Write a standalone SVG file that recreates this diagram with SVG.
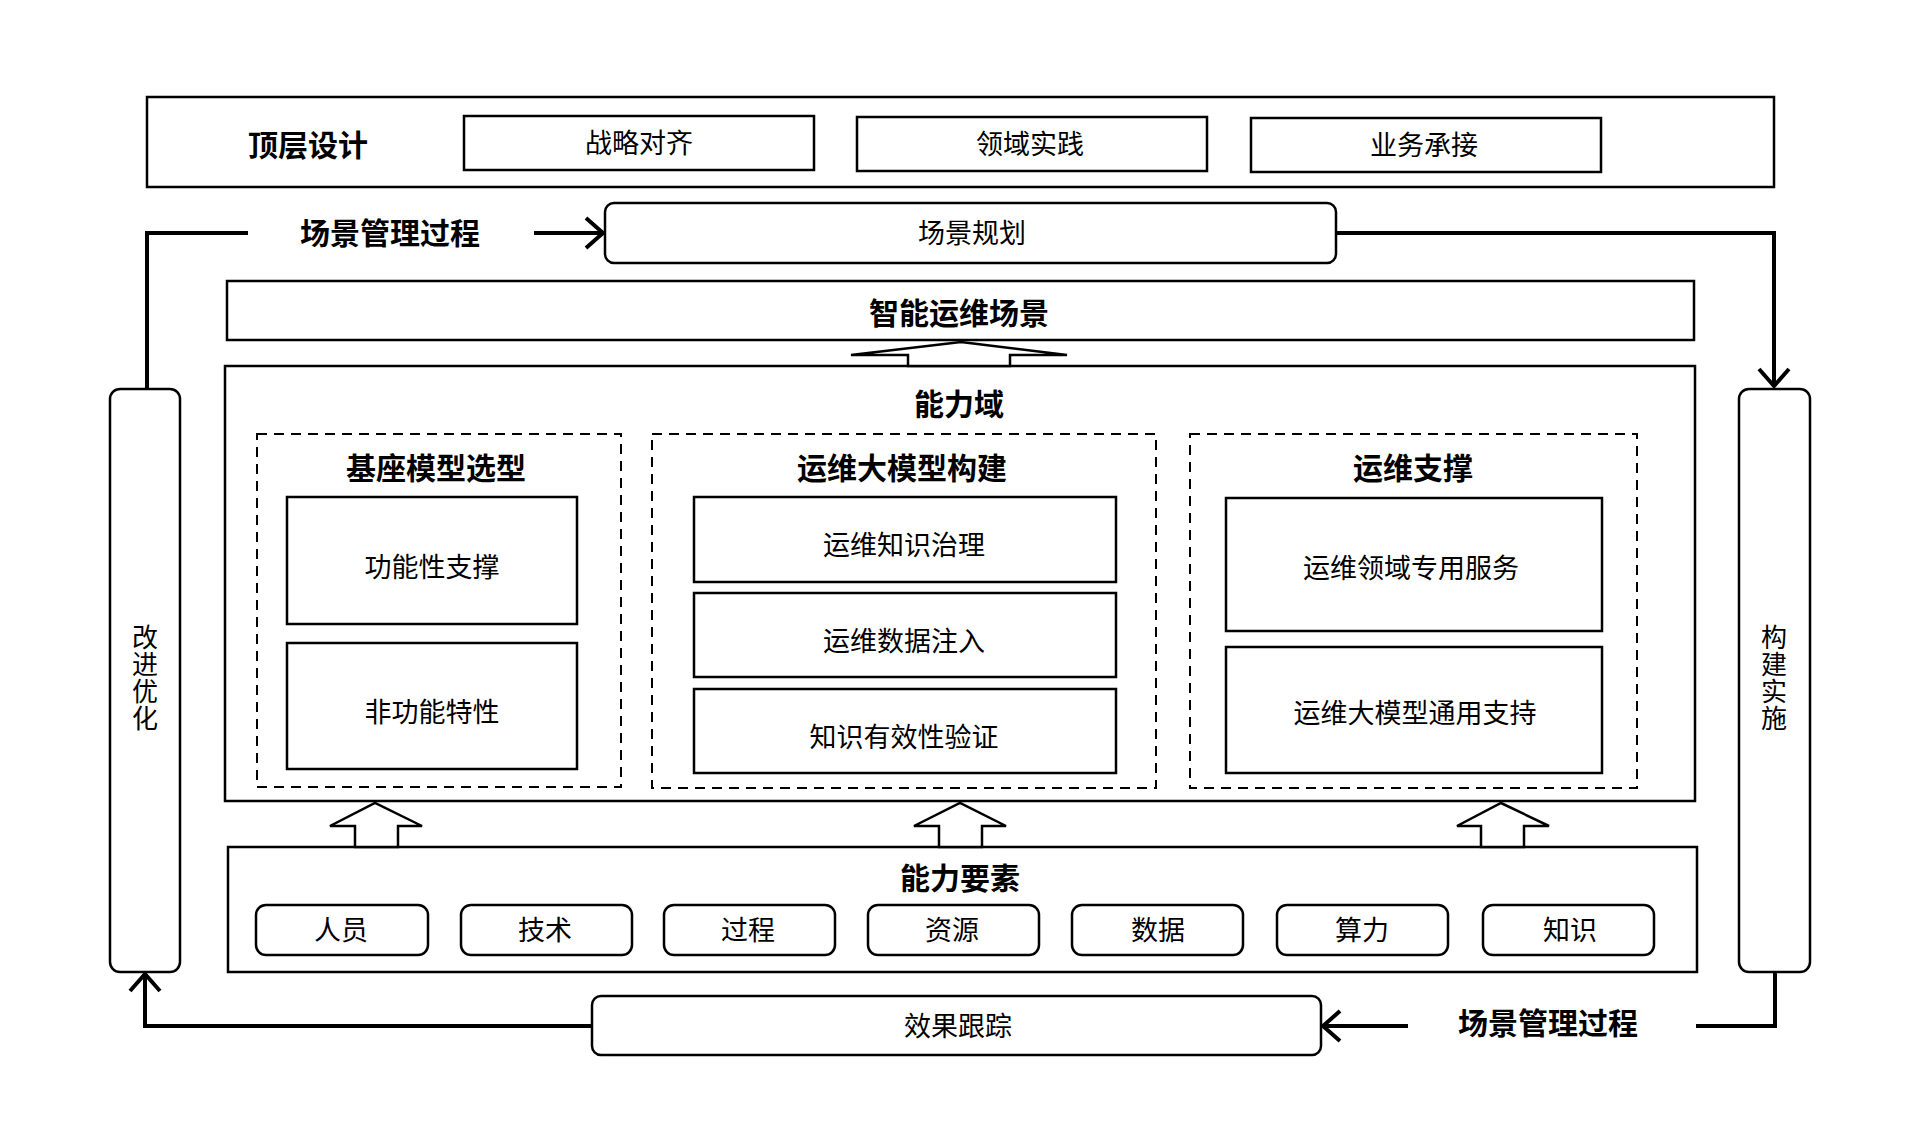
<svg xmlns="http://www.w3.org/2000/svg" width="1920" height="1124" viewBox="0 0 1920 1124">
<style>
text{font-family:"Noto Sans CJK SC","Noto Sans",sans-serif;fill:#000;text-anchor:middle;dominant-baseline:central}
.t{font-size:27px}
.b{font-size:30px;font-weight:bold}
.v{font-size:26px;writing-mode:vertical-rl;letter-spacing:1px}
.box{fill:#fff;stroke:#000;stroke-width:2.5}
.dash{fill:none;stroke:#000;stroke-width:2;stroke-dasharray:10 7}
.con{fill:none;stroke:#000;stroke-width:4}
.blk{fill:#fff;stroke:#000;stroke-width:2.5;stroke-linejoin:miter}
</style>
<defs>
<marker id="ah" markerUnits="userSpaceOnUse" markerWidth="40" markerHeight="40" viewBox="-20 -20 40 40" refX="0" refY="0" orient="auto">
<path d="M-17,-15 L0,0 L-17,15" fill="none" stroke="#000" stroke-width="4"/>
</marker>
</defs>
<rect width="1920" height="1124" fill="#fff"/>

<g id="top-design">
<rect class="box" x="147" y="97" width="1627" height="90"/>
<text class="b" x="308" y="143">顶层设计</text>
</g>
<g id="n-strategy"><rect class="box" x="464" y="116" width="350" height="54"/><text class="t" x="639" y="141">战略对齐</text></g>
<g id="n-domain"><rect class="box" x="857" y="117" width="350" height="54"/><text class="t" x="1030" y="142">领域实践</text></g>
<g id="n-business"><rect class="box" x="1251" y="118" width="350" height="54"/><text class="t" x="1424" y="143">业务承接</text></g>

<g id="n-plan"><rect class="box" x="605" y="203" width="731" height="60" rx="9"/><text class="t" x="972" y="231">场景规划</text></g>

<g id="n-scene"><rect class="box" x="227" y="281" width="1467" height="59"/><text class="b" x="959" y="311">智能运维场景</text></g>

<g id="n-capdomain">
<rect class="box" x="225" y="366" width="1470" height="435"/>
<text class="b" x="959" y="402">能力域</text>
</g>

<g id="g-base">
<rect class="dash" x="257" y="434" width="364" height="353"/>
<text class="b" x="436" y="466">基座模型选型</text>
</g>
<g id="n-func"><rect class="box" x="287" y="497" width="290" height="127"/><text class="t" x="432" y="565">功能性支撑</text></g>
<g id="n-nonfunc"><rect class="box" x="287" y="643" width="290" height="126"/><text class="t" x="432" y="710">非功能特性</text></g>

<g id="g-build">
<rect class="dash" x="652" y="434" width="504" height="354"/>
<text class="b" x="902" y="466">运维大模型构建</text>
</g>
<g id="n-know"><rect class="box" x="694" y="497" width="422" height="85"/><text class="t" x="904" y="543">运维知识治理</text></g>
<g id="n-data"><rect class="box" x="694" y="593" width="422" height="84"/><text class="t" x="904" y="639">运维数据注入</text></g>
<g id="n-verify"><rect class="box" x="694" y="689" width="422" height="84"/><text class="t" x="904" y="735">知识有效性验证</text></g>

<g id="g-support">
<rect class="dash" x="1190" y="434" width="447" height="354"/>
<text class="b" x="1413" y="466">运维支撑</text>
</g>
<g id="n-service"><rect class="box" x="1226" y="498" width="376" height="133"/><text class="t" x="1411" y="566">运维领域专用服务</text></g>
<g id="n-general"><rect class="box" x="1226" y="647" width="376" height="126"/><text class="t" x="1415" y="711">运维大模型通用支持</text></g>

<g id="n-elements">
<rect class="box" x="228" y="847" width="1469" height="125"/>
<text class="b" x="960" y="876">能力要素</text>
</g>
<g id="e1"><rect class="box" x="256" y="905" width="172" height="50" rx="10"/><text class="t" x="341" y="928">人员</text></g>
<g id="e2"><rect class="box" x="461" y="905" width="171" height="50" rx="10"/><text class="t" x="545" y="928">技术</text></g>
<g id="e3"><rect class="box" x="664" y="905" width="171" height="50" rx="10"/><text class="t" x="748" y="928">过程</text></g>
<g id="e4"><rect class="box" x="868" y="905" width="171" height="50" rx="10"/><text class="t" x="952" y="928">资源</text></g>
<g id="e5"><rect class="box" x="1072" y="905" width="171" height="50" rx="10"/><text class="t" x="1158" y="928">数据</text></g>
<g id="e6"><rect class="box" x="1277" y="905" width="171" height="50" rx="10"/><text class="t" x="1362" y="928">算力</text></g>
<g id="e7"><rect class="box" x="1483" y="905" width="171" height="50" rx="10"/><text class="t" x="1570" y="928">知识</text></g>

<g id="n-improve">
<rect class="box" x="110" y="389" width="70" height="583" rx="10"/>
<text class="v" x="145" y="678">改进优化</text>
</g>
<g id="n-implement">
<rect class="box" x="1739" y="389" width="71" height="583" rx="10"/>
<text class="v" x="1774" y="678">构建实施</text>
</g>

<g id="n-track"><rect class="box" x="592" y="996" width="729" height="59" rx="9"/><text class="t" x="958" y="1024">效果跟踪</text></g>

<g id="labels">
<text class="b" x="390" y="231">场景管理过程</text>
<text class="b" x="1548" y="1021">场景管理过程</text>
</g>

<g id="connectors">
<path class="con" d="M147,389 V233 H248"/>
<path class="con" d="M534,233 H603" marker-end="url(#ah)"/>
<path class="con" d="M1336,233 H1774 V386" marker-end="url(#ah)"/>
<path class="con" d="M1696,1026 H1775 V972"/>
<path class="con" d="M1408,1026 H1323" marker-end="url(#ah)"/>
<path class="con" d="M592,1026 H145 V974" marker-end="url(#ah)"/>
<polygon class="blk" points="908,366 908,355 851,355 961,342 1067,355 1010,355 1010,366"/>
<polygon class="blk" points="355,847 355,826 330,826 375,803 422,826 398,826 398,847"/>
<polygon class="blk" points="939,847 939,826 914,826 960,803 1006,826 982,826 982,847"/>
<polygon class="blk" points="1481,847 1481,826 1457,826 1501,803 1549,826 1524,826 1524,847"/>
</g>
</svg>
